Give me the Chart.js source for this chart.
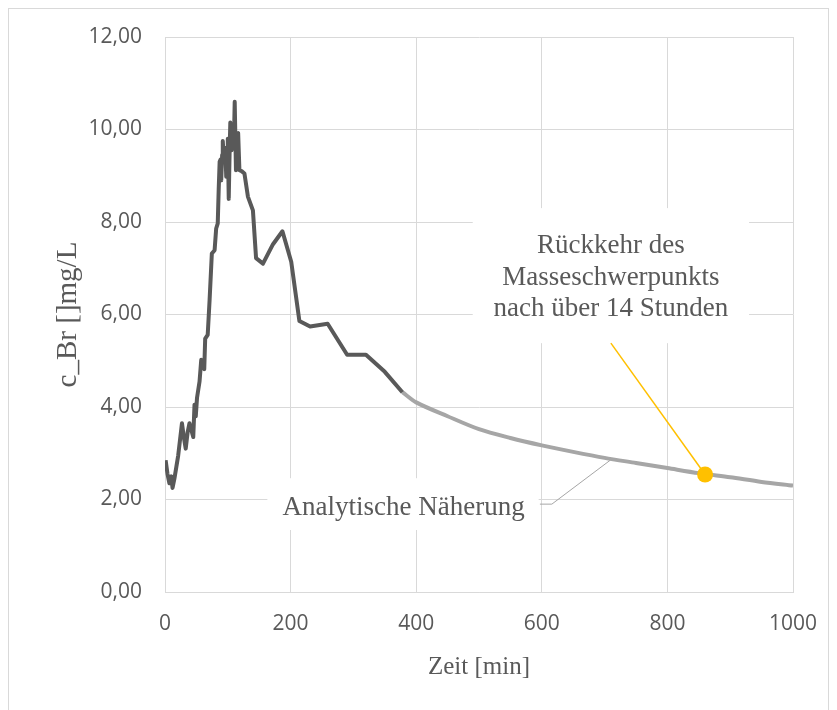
<!DOCTYPE html>
<html>
<head>
<meta charset="utf-8">
<script src="https://cdn.jsdelivr.net/npm/chart.js@4.4.1/dist/chart.umd.min.js"></script>
<style>
  html, body { margin: 0; padding: 0; background: #fff; }
  #chart { display: block; }
</style>
</head>
<body>
<canvas id="chart" width="837" height="710"></canvas>
<script>
'use strict';

// measured bromide concentration (dark line)
var measTime = [1, 4, 7, 10, 12, 15, 18, 21, 24, 27, 30, 33, 36, 39, 42, 45, 47, 49, 51, 55, 57.7, 62.5, 64, 68,
  71, 74.6, 79, 81.5, 84, 85.5, 87, 88.5, 89.5, 91, 92, 94, 96, 97.5, 99, 100, 101.5, 103, 104, 106, 108, 109.5, 111, 113,
  115, 116.5, 118.5, 122, 126.5, 132, 140, 145, 156, 172, 187, 201, 214, 231, 259, 290, 320, 350, 378];
var measConc = [2.85, 2.55, 2.35, 2.5, 2.25, 2.45, 2.7, 2.95, 3.3, 3.65, 3.35, 3.1, 3.45, 3.65, 3.5, 3.35, 4.05, 3.8, 4.2, 4.55, 5.02, 4.82, 5.48, 5.56,
  6.31, 7.32, 7.39, 7.86, 7.97, 8.7, 9.3, 9.35, 8.9, 9.45, 9.75, 9.3, 9.6, 8.98, 9.55, 9.8, 8.5, 9.6, 10.15, 9.55, 9.95, 9.6, 10.6, 9.12,
  9.9, 9.92, 9.12, 9.1, 9.05, 8.55, 8.25, 7.22, 7.1, 7.52, 7.8, 7.14, 5.86, 5.74, 5.8, 5.13, 5.13, 4.76, 4.32];

// analytical approximation (light grey line)
var fitTime = [378, 400, 450, 500, 550, 600, 650, 700, 750, 800, 850, 900, 950, 1000];
var fitConc = [4.32, 4.1, 3.8, 3.52, 3.33, 3.17, 3.03, 2.9, 2.79, 2.68, 2.57, 2.48, 2.38, 2.3];

// return of the centre of mass
var markTime = [860];
var markConc = [2.54];

// leader lines of the two labels
var leaderMarkTime = [710, 860];
var leaderMarkConc = [5.38, 2.54];
var leaderFitTime = [597, 616, 709];
var leaderFitConc = [1.9, 1.9, 2.85];

var xTicks = [0, 200, 400, 600, 800, 1000];

var labelMark = ['Rückkehr des', 'Masseschwerpunkts', 'nach über 14 Stunden'];
var labelFit = 'Analytische Näherung';

function toPoints(xs, ys) {
  return xs.map(function(x, i) { return { x: x, y: ys[i] }; });
}

var gridColor = '#d9d9d9';
var textColor = '#595959';
var serif = '"Liberation Serif", "Times New Roman", serif';
var sans = '"Open Sans", "Liberation Sans", sans-serif';

// frame, white label boxes and label texts
var notesPlugin = {
  id: 'notes',
  beforeDraw: function(chart) {
    var ctx = chart.ctx;
    ctx.save();
    ctx.fillStyle = '#fff';
    ctx.fillRect(0, 0, chart.width, chart.height);
    ctx.strokeStyle = gridColor;
    ctx.lineWidth = 1;
    ctx.strokeRect(8.5, 8.5, 820, 730);
    ctx.restore();
  },
  beforeDatasetsDraw: function(chart) {
    var ctx = chart.ctx;
    var xs = chart.scales.x;
    var ys = chart.scales.y;
    function box(x0, x1, y0, y1) {
      var l = xs.getPixelForValue(x0), r = xs.getPixelForValue(x1);
      var t = ys.getPixelForValue(y0), b = ys.getPixelForValue(y1);
      ctx.fillRect(l, t, r - l, b - t);
    }
    ctx.save();
    ctx.fillStyle = '#fff';
    box(490, 930, 8.3, 5.38);
    box(163, 595, 2.46, 1.34);

    ctx.fillStyle = textColor;
    ctx.font = '27px ' + serif;
    ctx.textAlign = 'center';
    ctx.textBaseline = 'alphabetic';
    var cx = xs.getPixelForValue(710);
    var by = ys.getPixelForValue(7.33);
    labelMark.forEach(function(line, i) {
      ctx.fillText(line, cx, by + i * 31.7);
    });
    ctx.fillText(labelFit, xs.getPixelForValue(380), ys.getPixelForValue(1.665));
    ctx.restore();
  }
};

var ctx = document.getElementById('chart').getContext('2d');

var chart = new Chart(ctx, {
  type: 'line',
  data: {
    datasets: [
      {
        data: toPoints(markTime, markConc),
        showLine: false,
        pointRadius: 8,
        pointBackgroundColor: '#ffc000',
        pointBorderColor: '#ffc000',
        pointBorderWidth: 0
      },
      {
        data: toPoints(leaderMarkTime, leaderMarkConc),
        borderColor: '#ffc000',
        borderWidth: 1.5,
        pointRadius: 0
      },
      {
        data: toPoints(measTime, measConc),
        borderColor: '#595959',
        borderWidth: 4,
        pointRadius: 0,
        tension: 0,
        borderJoinStyle: 'round'
      },
      {
        data: toPoints(fitTime, fitConc),
        borderColor: '#a6a6a6',
        borderWidth: 4,
        pointRadius: 0,
        tension: 0.3
      },
      {
        data: toPoints(leaderFitTime, leaderFitConc),
        borderColor: '#a6a6a6',
        borderWidth: 1,
        pointRadius: 0
      }
    ]
  },
  options: {
    responsive: false,
    animation: false,
    devicePixelRatio: 1,
    layout: { padding: { left: 20, right: 44, top: 37, bottom: 8 } },
    plugins: {
      legend: { display: false },
      tooltip: { enabled: false }
    },
    scales: {
      x: {
        type: 'linear',
        min: 0,
        max: 1000,
        afterFit: function(scale) { scale.height = 110; },
        afterBuildTicks: function(scale) {
          scale.ticks = xTicks.map(function(v) { return { value: v }; });
        },
        ticks: {
          color: textColor,
          font: { family: sans, size: 21 },
          padding: 19,
          maxRotation: 0,
          callback: function(v) { return String(v); }
        },
        grid: { color: gridColor, drawTicks: false },
        border: { color: gridColor },
        title: {
          display: true,
          text: 'Zeit [min]',
          color: textColor,
          font: { family: serif, size: 25 },
          padding: { top: 0, bottom: 20 }
        }
      },
      y: {
        min: 0,
        max: 12,
        afterFit: function(scale) { scale.width = 145; },
        ticks: {
          stepSize: 2,
          color: textColor,
          font: { family: sans, size: 21 },
          padding: 23,
          callback: function(v) { return v.toFixed(2).replace('.', ','); }
        },
        grid: { color: gridColor, drawTicks: false },
        border: { color: gridColor },
        title: {
          display: true,
          text: 'c_Br []mg/L',
          color: textColor,
          font: { family: serif, size: 29 },
          padding: { top: 31, bottom: 0 }
        }
      }
    }
  },
  plugins: [notesPlugin]
});
</script>
</body>
</html>
